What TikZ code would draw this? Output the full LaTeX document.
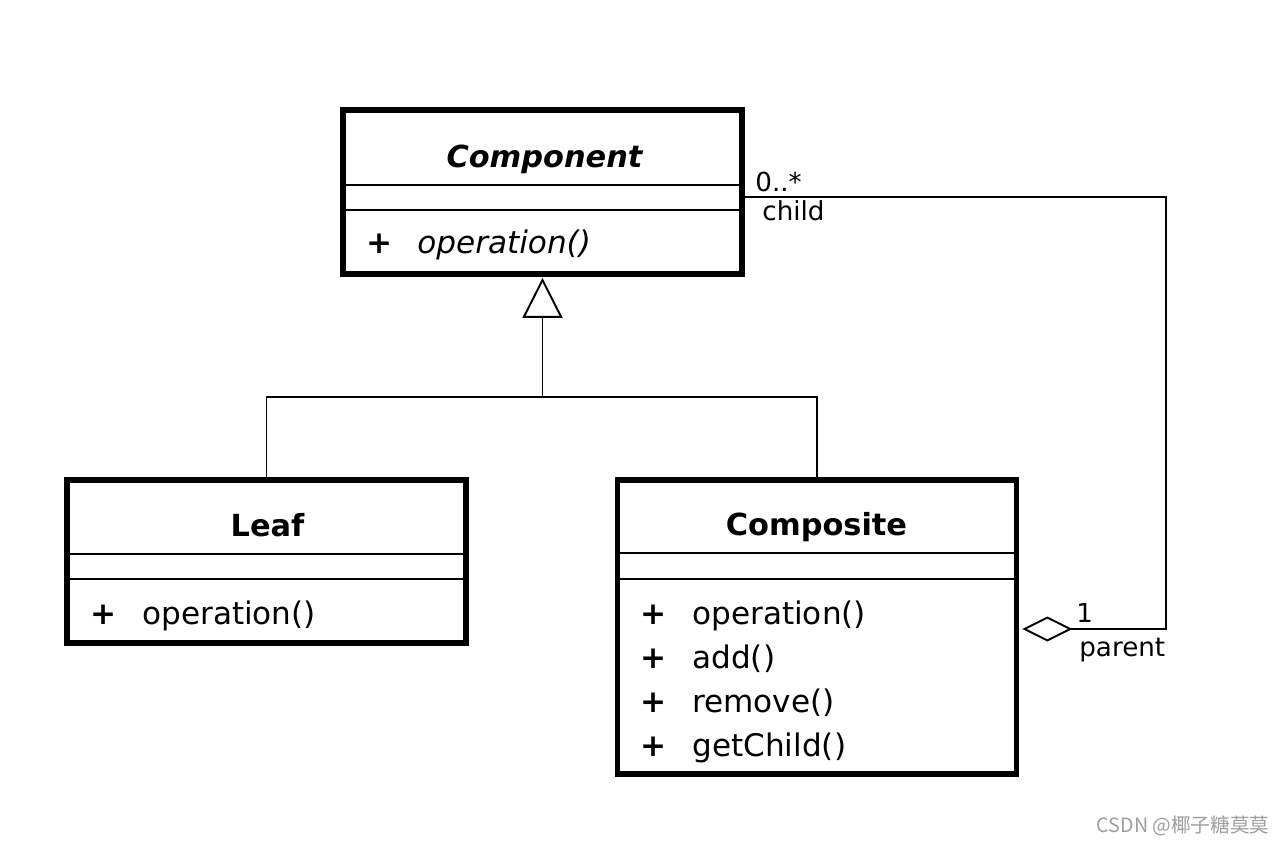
\documentclass[tikz,border=0pt]{standalone}
\usepackage{fontspec}
\setmainfont{DejaVu Sans}
\newfontfamily\cjk{Noto Sans CJK SC}
\usetikzlibrary{arrows.meta, calc}

\begin{document}
\begin{tikzpicture}[x=0.2mm, y=-0.2mm,
    classbox/.style={draw, line width=3.3pt, inner sep=0pt, minimum width=79.8mm},
    classname/.style={anchor=base, inner sep=0pt, font=\fontsize{17.3}{20}\selectfont\bfseries},
    member/.style={anchor=base west, inner sep=0pt, font=\fontsize{17.7}{20}\selectfont},
    divider/.style={line width=1.1pt},
    link/.style={line width=1.1pt},
    role/.style={anchor=base west, inner sep=0pt, font=\fontsize{14.9}{17}\selectfont},
    inherit/.style={link, -{Triangle[open, length=8mm, width=8mm]}, shorten >=0.2mm},
    aggregate/.style={link, -{Diamond[open, length=10mm, width=5mm]}, shorten >=0.6mm}
]
\useasboundingbox (0,0) rectangle (1286,844);
\node[classbox, minimum height=32.8mm] (component) at (542.5,192) {};
\node[classbox, minimum height=32.6mm] (leaf) at (266.5,561.5) {};
\node[classbox, minimum height=58.8mm] (composite) at (817,627) {};
\draw[divider] (component.west |- 0,185) -- (component.east |- 0,185);
\draw[divider] (component.west |- 0,210) -- (component.east |- 0,210);
\draw[divider] (leaf.west |- 0,554) -- (leaf.east |- 0,554);
\draw[divider] (leaf.west |- 0,579) -- (leaf.east |- 0,579);
\draw[divider] (composite.west |- 0,553) -- (composite.east |- 0,553);
\draw[divider] (composite.west |- 0,579) -- (composite.east |- 0,579);
\node[classname] (componentName) at (544.5,167) {\itshape Component};
\node[member] (componentPlus) at (366,253) {\bfseries +};
\node[member] (componentOp) at (417,253) {\itshape operation()};
\node[classname] (leafName) at (267.5,536) {Leaf};
\node[member] (leafPlus) at (90,624) {\bfseries +};
\node[member] (leafOp) at (142,624) {operation()};
\node[classname] (compositeName) at (816.5,535) {Composite};
\node[member] (compositePlusA) at (640,624) {\bfseries +};
\node[member] (compositeOp) at (692,624) {operation()};
\node[member] (compositePlusB) at (640,668) {\bfseries +};
\node[member] (compositeAdd) at (692,668) {add()};
\node[member] (compositePlusC) at (640,712) {\bfseries +};
\node[member] (compositeRemove) at (692,712) {remove()};
\node[member] (compositePlusD) at (640,756) {\bfseries +};
\node[member] (compositeGet) at (692,756) {getChild()};
\coordinate (joint) at (542.5,397);
\coordinate (bend) at (1166,629);
\draw[link] (leaf.north) |- (joint) -| (composite.north);
\draw[inherit] (joint) -- (component.south);
\draw[aggregate] (component.east |- 0,197) -| (bend) -- (composite.east |- bend);
\node[role] (childMult) at (755,191) {0..*};
\node[role] (childRole) at (762,220) {child};
\node[role] (parentMult) at (1076,622) {1};
\node[role] (parentRole) at (1079,656) {parent};
\node[anchor=base east, inner sep=0pt, text=black!38, font=\cjk\fontsize{11.2}{13}\selectfont] (mark) at (1270,832) {CSDN @椰子糖莫莫};
\end{tikzpicture}
\end{document}
